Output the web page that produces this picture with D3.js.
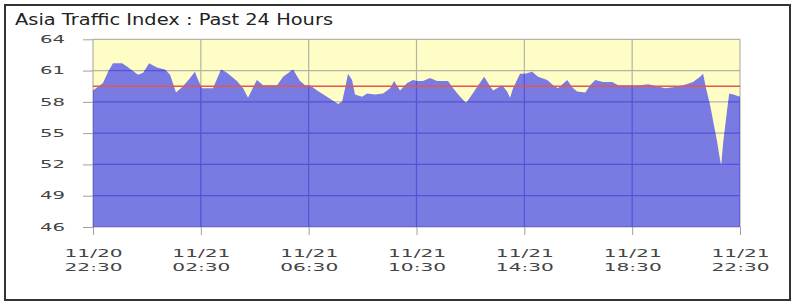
<!DOCTYPE html>
<html>
<head>
<meta charset="utf-8">
<script src="https://cdn.jsdelivr.net/npm/d3@7"></script>
<style>
  body { margin: 0; background: #fff; }
  svg { display: block; }
</style>
</head>
<body>
<div id="chart_container"></div>
<script>
// Data (hours after 11/20 22:30)

const chartTitle = "Asia Traffic Index : Past 24 Hours"

const hours = [
  0.00, 0.37, 0.56, 0.74, 1.08, 1.26, 1.67, 1.86, 2.08, 2.37, 2.67, 2.86,
  3.08, 3.34, 3.60, 3.78, 3.90, 4.04, 4.45, 4.75, 4.97, 5.34, 5.57, 5.75,
  5.94, 6.08, 6.31, 6.83, 7.05, 7.42, 7.68, 7.87, 8.05, 8.31, 8.68, 9.09,
  9.24, 9.35, 9.46, 9.61, 9.72, 9.98, 10.17, 10.46, 10.76, 11.02, 11.17, 11.39,
  11.65, 11.87, 12.02, 12.24, 12.50, 12.76, 13.17, 13.36, 13.62, 13.84, 14.06, 14.29,
  14.51, 14.73, 14.84, 15.18, 15.36, 15.47, 15.58, 15.84, 16.03, 16.29, 16.51, 16.85,
  17.07, 17.25, 17.59, 17.81, 17.96, 18.26, 18.44, 18.63, 18.92, 19.26, 19.48, 19.93,
  20.30, 20.59, 20.93, 21.22, 21.52, 21.89, 22.26, 22.52, 22.63, 22.74, 22.89, 23.01,
  23.15, 23.23, 23.30, 23.38, 23.53, 23.60, 23.75, 24.00
]

const traffic = [
  59.1, 59.8, 60.9, 61.7, 61.7, 61.4, 60.6, 60.8, 61.7, 61.3, 61.1, 60.6,
  58.9, 59.5, 60.3, 60.9, 60.1, 59.3, 59.3, 61.1, 60.8, 60.0, 59.3, 58.4,
  59.4, 60.1, 59.6, 59.6, 60.4, 61.1, 60.0, 59.6, 59.6, 59.1, 58.5, 57.8,
  58.0, 59.3, 60.7, 60.1, 58.7, 58.5, 58.8, 58.7, 58.8, 59.3, 60.0, 59.1,
  59.8, 60.1, 60.0, 60.0, 60.3, 60.0, 60.0, 59.3, 58.5, 57.9, 58.7, 59.6,
  60.4, 59.5, 59.1, 59.6, 59.0, 58.4, 59.3, 60.7, 60.7, 60.9, 60.4, 60.1,
  59.6, 59.3, 60.1, 59.3, 59.0, 58.9, 59.6, 60.1, 59.9, 59.9, 59.6, 59.6,
  59.6, 59.7, 59.5, 59.3, 59.4, 59.6, 59.9, 60.4, 60.7, 59.3, 57.7, 56.1,
  54.2, 52.9, 51.9, 54.2, 57.4, 58.8, 58.7, 58.5
]

const average = 59.5

const yTicks = [46, 49, 52, 55, 58, 61, 64]
const xTickHours = [0, 4, 8, 12, 16, 20, 24]
const xTickDates = ["11/20", "11/21", "11/21", "11/21", "11/21", "11/21", "11/21"]
const xTickTimes = ["22:30", "02:30", "06:30", "10:30", "14:30", "18:30", "22:30"]

// Layout

const W = 802
const H = 306
const plotLeft = 93
const plotRight = 740
const plotTop = 39.3
const plotBottom = 227
const labelFont = "'DejaVu Sans', Verdana, sans-serif"

const svg = d3.select("#chart_container").append("svg")
  .attr("width", W)
  .attr("height", H)

// frame
svg.append("rect")
  .attr("x", 5)
  .attr("y", 5)
  .attr("width", 785)
  .attr("height", 295)
  .attr("fill", "#fff")
  .attr("stroke", "#333")
  .attr("stroke-width", 2)

svg.append("text")
  .attr("x", 15)
  .attr("y", 25)
  .attr("textLength", 318)
  .attr("lengthAdjust", "spacingAndGlyphs")
  .style("font-family", labelFont)
  .style("font-size", "15px")
  .style("fill", "#222")
  .text(chartTitle)

const x = d3.scaleLinear().domain([0, 24]).range([plotLeft, plotRight])
const y = d3.scaleLinear().domain([46, 64]).range([plotBottom, plotTop])

// background
svg.append("rect")
  .attr("x", plotLeft)
  .attr("y", plotTop)
  .attr("width", plotRight - plotLeft)
  .attr("height", plotBottom - plotTop)
  .attr("fill", "#fefdc6")

function drawGrid(g, color) {
  g.selectAll(".hgrid")
    .data(yTicks)
    .join("line")
    .attr("x1", plotLeft)
    .attr("x2", plotRight)
    .attr("y1", d => y(d))
    .attr("y2", d => y(d))
    .attr("stroke", color)
    .attr("stroke-width", 1.2)
  g.selectAll(".vgrid")
    .data(xTickHours)
    .join("line")
    .attr("x1", d => x(d))
    .attr("x2", d => x(d))
    .attr("y1", plotTop)
    .attr("y2", plotBottom)
    .attr("stroke", color)
    .attr("stroke-width", 1.2)
}

drawGrid(svg.append("g"), "#b4b3a6")

const series = hours.map((h, i) => ({ h: h, v: traffic[i] }))

const area = d3.area()
  .x(d => x(d.h))
  .y0(y(46))
  .y1(d => y(d.v))

svg.append("path")
  .datum(series)
  .attr("fill", "#7a7ae3")
  .attr("d", area)

// darker grid lines where they cross the filled area
svg.append("clipPath")
  .attr("id", "areaClip")
  .append("path")
  .datum(series)
  .attr("d", area)

drawGrid(svg.append("g").attr("clip-path", "url(#areaClip)"), "#5353d6")

// average line
svg.append("line")
  .attr("x1", plotLeft)
  .attr("x2", plotRight)
  .attr("y1", y(average))
  .attr("y2", y(average))
  .attr("stroke", "#e2584c")
  .attr("stroke-width", 1.5)

// y axis
const yAxis = svg.append("g")
  .attr("transform", `translate(${plotLeft}, 0)`)
  .call(d3.axisLeft(y)
    .tickValues(yTicks)
    .tickSize(10)
    .tickSizeOuter(0)
    .tickPadding(18))
yAxis.select(".domain").remove()
yAxis.selectAll(".tick line").attr("stroke", "#a0a0a0")
yAxis.selectAll(".tick text")
  .attr("textLength", 25)
  .attr("lengthAdjust", "spacingAndGlyphs")
  .style("font-family", labelFont)
  .style("font-size", "10px")
  .style("fill", "#444")

// x axis
const xAxis = svg.append("g")
  .attr("transform", `translate(0, ${plotBottom})`)
  .call(d3.axisBottom(x)
    .tickValues(xTickHours)
    .tickSize(8)
    .tickSizeOuter(0)
    .tickFormat(""))
xAxis.select(".domain").remove()
xAxis.selectAll(".tick line").attr("stroke", "#a0a0a0")
xAxis.selectAll(".tick text").remove()

xAxis.selectAll(".tick").each(function (d, i) {
  const tick = d3.select(this)
  tick.append("text")
    .attr("y", 29.5)
    .attr("text-anchor", "middle")
    .attr("textLength", 58)
    .attr("lengthAdjust", "spacingAndGlyphs")
    .style("font-family", labelFont)
    .style("font-size", "10px")
    .style("fill", "#444")
    .text(xTickDates[i])
  tick.append("text")
    .attr("y", 44)
    .attr("text-anchor", "middle")
    .attr("textLength", 58)
    .attr("lengthAdjust", "spacingAndGlyphs")
    .style("font-family", labelFont)
    .style("font-size", "10px")
    .style("fill", "#444")
    .text(xTickTimes[i])
})
</script>
</body>
</html>
